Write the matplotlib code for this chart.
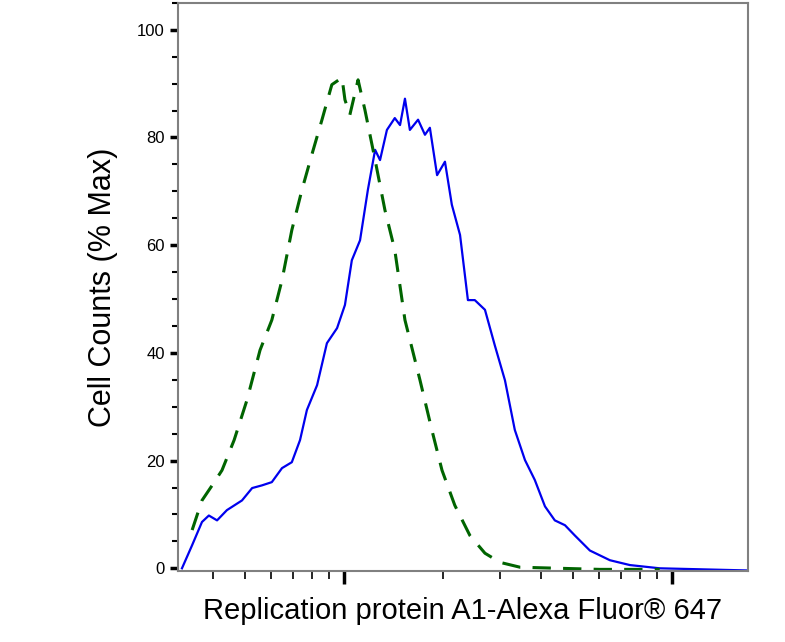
import numpy as np
import matplotlib
matplotlib.use("Agg")
import matplotlib.pyplot as plt
from matplotlib.ticker import LogLocator, MultipleLocator, NullFormatter

plt.rcParams["font.family"] = ["Liberation Sans", "DejaVu Sans"]

# intensity (log10) and % of max
blue_log = [2.506, 2.537, 2.567, 2.588, 2.613, 2.643, 2.689, 2.720, 2.750, 2.780,
            2.811, 2.841, 2.866, 2.887, 2.918, 2.948, 2.979, 3.003, 3.024, 3.049,
            3.073, 3.095, 3.110, 3.131, 3.155, 3.171, 3.186, 3.201, 3.226, 3.247,
            3.262, 3.284, 3.308, 3.329, 3.354, 3.378, 3.399, 3.430, 3.460, 3.491,
            3.521, 3.552, 3.582, 3.613, 3.643, 3.674, 3.704, 3.750, 3.811, 3.872,
            3.963, 4.232]
blue_pct = [0.0, 4.3, 8.6, 9.8, 8.9, 10.8, 12.6, 14.9, 15.4, 16.0,
            18.6, 19.7, 23.8, 29.4, 34.0, 41.8, 44.6, 48.9, 57.2, 60.9,
            70.3, 77.7, 75.8, 81.4, 83.6, 82.3, 87.2, 81.4, 83.3, 80.5,
            81.8, 73.0, 75.5, 67.5, 61.9, 49.8, 49.8, 48.0, 41.4, 34.9,
            25.7, 20.1, 16.4, 11.5, 8.9, 8.0, 6.1, 3.3, 1.5, 0.6,
            0.0, -0.4]

green_log = [2.537, 2.567, 2.598, 2.628, 2.665, 2.704, 2.744, 2.780, 2.811, 2.841,
             2.872, 2.902, 2.933, 2.963, 2.994, 3.003, 3.018, 3.043, 3.064, 3.095,
             3.125, 3.155, 3.186, 3.232, 3.268, 3.299, 3.338, 3.384, 3.430, 3.476,
             3.537, 3.659, 3.780, 3.963]
green_pct = [7.1, 12.6, 15.4, 18.2, 23.8, 31.2, 40.5, 46.1, 53.5, 62.8,
             70.3, 76.8, 83.3, 89.8, 91.1, 87.0, 84.2, 90.7, 85.1, 75.8,
             66.5, 59.1, 46.1, 34.9, 25.7, 18.2, 11.7, 6.1, 2.8, 1.1,
             0.2, 0.0, -0.2, -0.2]

fig = plt.figure(figsize=(7.85, 6.42), dpi=100)
ax = fig.add_axes([0.2268, 0.1106, 0.726, 0.885])

ax.plot(10 ** np.array(blue_log), blue_pct, color="#0000ee", lw=1.6)
ax.plot(10 ** np.array(green_log), green_pct, color="#006400", lw=2.2,
        dashes=(6, 4))

ax.set_xscale("log")
ax.set_xlim(10 ** 2.494, 10 ** 4.232)
ax.set_ylim(-0.5, 105)

ax.xaxis.set_major_locator(LogLocator(base=10, numticks=10))
ax.xaxis.set_minor_locator(LogLocator(base=10, subs=np.arange(2, 10), numticks=20))
ax.xaxis.set_major_formatter(NullFormatter())
ax.xaxis.set_minor_formatter(NullFormatter())
ax.yaxis.set_major_locator(MultipleLocator(20))
ax.yaxis.set_minor_locator(MultipleLocator(5))

ax.tick_params(which="major", length=9, width=2.5, labelsize=12, color="black")
ax.tick_params(which="minor", length=6, width=1.2, color="black")
ax.tick_params(axis="y", which="major", length=6, width=2.5)
ax.tick_params(axis="y", which="minor", length=4, width=1.5)

for s in ax.spines.values():
    s.set_color("#808080")
    s.set_linewidth(1.5)

ax.set_xlabel("Replication protein A1-Alexa Fluor\u00ae 647", fontsize=21, labelpad=6)
ax.set_ylabel("Cell Counts (% Max)", fontsize=22, labelpad=14)

fig.savefig("out.png", dpi=100)
